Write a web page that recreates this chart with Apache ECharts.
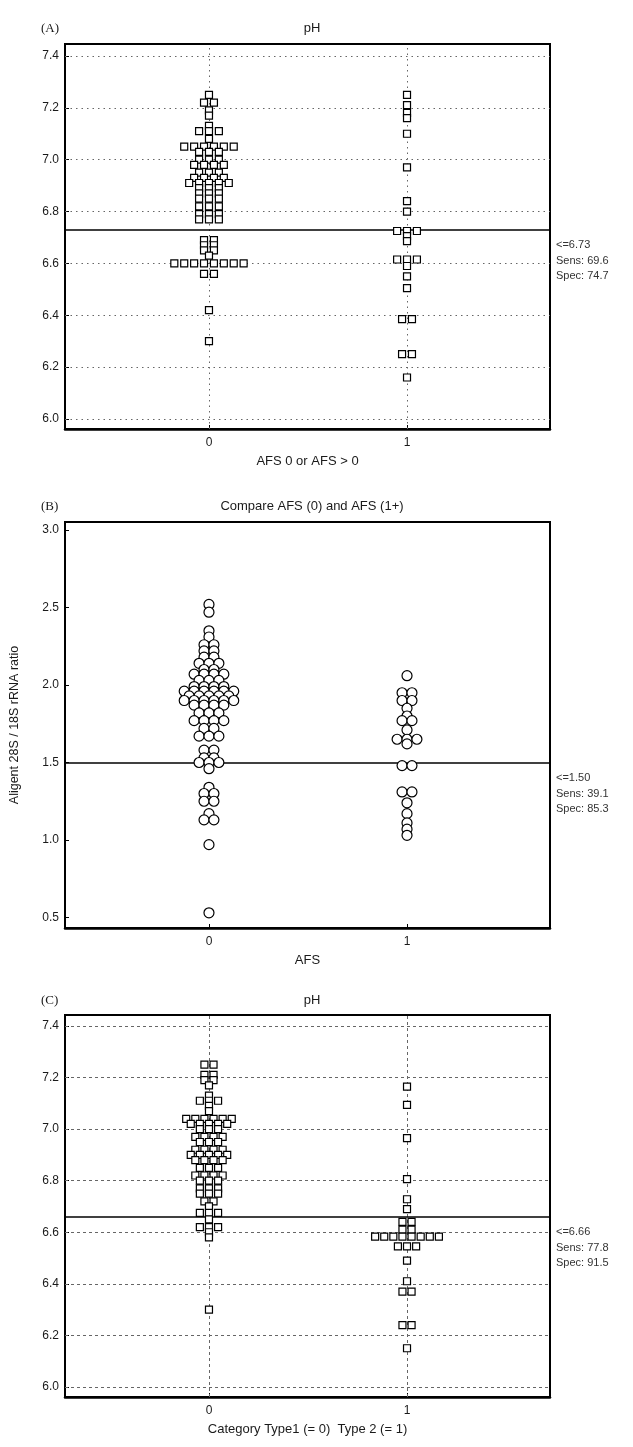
<!DOCTYPE html>
<html><head><meta charset="utf-8">
<script src="https://cdn.jsdelivr.net/npm/echarts@6/dist/echarts.min.js"></script>
<style>html,body{margin:0;padding:0;background:#fff}#c{width:633px;height:1447px}</style>
</head><body><div id="c"></div>
<script>
// ---------- DATA ----------
const phTicks = [6.0, 6.2, 6.4, 6.6, 6.8, 7.0, 7.2, 7.4];
const rnaTicks = [0.5, 1.0, 1.5, 2.0, 2.5, 3.0];
const groupTicks = [0, 1];

// Panel A: pH, AFS 0 (group 0) vs AFS > 0 (group 1)
const phA0 = [7.25, 7.22, 7.22, 7.19, 7.17, 7.13, 7.11, 7.11, 7.11, 7.08,
  7.05, 7.05, 7.05, 7.05, 7.05, 7.05, 7.03, 7.03, 7.03, 7.00, 7.00, 7.00,
  6.98, 6.98, 6.98, 6.98, 6.95, 6.95, 6.95, 6.93, 6.93, 6.93, 6.93,
  6.91, 6.91, 6.91, 6.91, 6.91, 6.89, 6.89, 6.89, 6.87, 6.87, 6.87,
  6.85, 6.85, 6.85, 6.82, 6.82, 6.82, 6.79, 6.79, 6.79, 6.77, 6.77, 6.77,
  6.69, 6.69, 6.67, 6.67, 6.65, 6.65, 6.63,
  6.60, 6.60, 6.60, 6.60, 6.60, 6.60, 6.60, 6.60, 6.56, 6.56, 6.42, 6.30];
const phA1 = [7.25, 7.21, 7.18, 7.16, 7.10, 6.97, 6.84, 6.80, 6.725, 6.725, 6.725,
  6.705, 6.686, 6.615, 6.615, 6.615, 6.59, 6.55, 6.505, 6.385, 6.385, 6.25, 6.25, 6.16];
const cutA = 6.73, cutAText = '<=6.73\nSens: 69.6\nSpec: 74.7';

// Panel B: RNA ratio, AFS 0 vs AFS 1+
const rnaB0 = [2.52, 2.47, 2.35, 2.31, 2.26, 2.26, 2.22, 2.22, 2.18, 2.18,
  2.14, 2.14, 2.14, 2.10, 2.10, 2.07, 2.07, 2.07, 2.07, 2.03, 2.03, 2.03,
  1.99, 1.99, 1.99, 1.99, 1.96, 1.96, 1.96, 1.96, 1.96, 1.96,
  1.93, 1.93, 1.93, 1.93, 1.93, 1.90, 1.90, 1.90, 1.90, 1.90, 1.90,
  1.87, 1.87, 1.87, 1.87, 1.82, 1.82, 1.82, 1.77, 1.77, 1.77, 1.77,
  1.72, 1.72, 1.67, 1.67, 1.67, 1.58, 1.58, 1.53, 1.53, 1.50, 1.50, 1.50,
  1.46, 1.34, 1.30, 1.30, 1.25, 1.25, 1.17, 1.13, 1.13, 0.97, 0.53];
const rnaB1 = [2.06, 1.95, 1.95, 1.90, 1.90, 1.85, 1.80, 1.77, 1.77, 1.71,
  1.65, 1.65, 1.65, 1.62, 1.48, 1.48, 1.31, 1.31, 1.24, 1.17, 1.11, 1.07, 1.03];
const cutB = 1.50, cutBText = '<=1.50\nSens: 39.1\nSpec: 85.3';

// Panel C: pH, Type 1 (0) vs Type 2 (1)
const phC0 = [7.25, 7.25, 7.21, 7.21, 7.19, 7.19, 7.17, 7.13, 7.11, 7.11, 7.11, 7.09, 7.07,
  7.04, 7.04, 7.04, 7.04, 7.04, 7.04, 7.02, 7.02, 7.02, 7.02, 7.02, 7.00, 7.00, 7.00,
  6.97, 6.97, 6.97, 6.97, 6.95, 6.95, 6.95, 6.92, 6.92, 6.92, 6.92,
  6.90, 6.90, 6.90, 6.90, 6.90, 6.88, 6.88, 6.88, 6.88, 6.85, 6.85, 6.85,
  6.82, 6.82, 6.82, 6.82, 6.80, 6.80, 6.80, 6.77, 6.77, 6.77, 6.75, 6.75, 6.75,
  6.72, 6.72, 6.70, 6.675, 6.675, 6.675, 6.65, 6.62, 6.62, 6.62, 6.60, 6.58, 6.30];
const phC1 = [7.165, 7.094, 6.965, 6.806, 6.728, 6.69, 6.64, 6.64, 6.61, 6.61,
  6.583, 6.583, 6.583, 6.583, 6.583, 6.583, 6.583, 6.583, 6.545, 6.545, 6.545,
  6.49, 6.41, 6.37, 6.37, 6.24, 6.24, 6.15];
const cutC = 6.66, cutCText = '<=6.66\nSens: 77.8\nSpec: 91.5';

// ---------- BUILD ----------
function swarm(values, group, step) {
  const count = {}, seen = {};
  values.forEach(v => { const k = v.toFixed(3); count[k] = (count[k] || 0) + 1; });
  return values.map(v => {
    const k = v.toFixed(3); const i = seen[k] || 0; seen[k] = i + 1;
    return [group + (i - (count[k] - 1) / 2) * step, v];
  });
}

const FONT = '"Liberation Sans", Arial, sans-serif';
const TXT = '#1a1a1a';

function gridLines(ticks, dashed) {
  const ls = { color: '#666', width: 1, type: dashed ? [3, 3] : [1.5, 4] };
  const arr = ticks.map(t => ({ yAxis: t, lineStyle: ls, label: { show: false } }));
  groupTicks.forEach(g => arr.push({ xAxis: g, lineStyle: ls, label: { show: false } }));
  return arr;
}
function cutLine(v, text) {
  // four leading empty lines push the 3-line block below the cut line
  return { yAxis: v, lineStyle: { color: '#000', width: 1.6, type: 'solid' },
    label: { show: true, position: 'end', formatter: '\n\n\n\n' + text, color: '#333', fontSize: 11,
      fontFamily: FONT, lineHeight: 15.5, align: 'left', distance: 6 } };
}

const panels = [
  { top: 44, height: 385, min: 5.9615, max: 7.446, ticks: phTicks, g0: phA0, g1: phA1, sym: 'rect', size: 7, step: 0.05,
    cut: cutA, cutText: cutAText, lines: gridLines(phTicks, false), xname: 'AFS 0 or AFS > 0', yname: '' },
  { top: 522, height: 406, min: 0.432, max: 3.052, ticks: rnaTicks, g0: rnaB0, g1: rnaB1, sym: 'circle', size: 10, step: 0.05,
    cut: cutB, cutText: cutBText, lines: [], xname: 'AFS', yname: 'Aligent 28S / 18S rRNA ratio' },
  { top: 1015, height: 382, min: 5.961, max: 7.4426, ticks: phTicks, g0: phC0, g1: phC1, sym: 'rect', size: 7, step: 0.046,
    cut: cutC, cutText: cutCText, lines: gridLines(phTicks, true), xname: 'Category Type1 (= 0)  Type 2 (= 1)', yname: '' }
];

const grids = [], xAxes = [], yAxes = [], series = [];
panels.forEach((p, i) => {
  grids.push({ left: 65, width: 485, top: p.top, height: p.height, show: true,
    borderColor: '#000', borderWidth: 2, backgroundColor: 'transparent' });
  xAxes.push({ type: 'value', gridIndex: i, min: -0.727, max: 1.722,
    axisLine: { show: true, onZero: false, lineStyle: { color: '#000', width: 2.5 } },
    axisTick: { show: true, inside: true, length: 4, customValues: groupTicks, lineStyle: { color: '#000' } },
    axisLabel: { customValues: groupTicks, formatter: v => String(Math.round(v)), color: TXT, fontSize: 12, fontFamily: FONT, margin: 8 },
    splitLine: { show: false },
    name: p.xname, nameLocation: 'middle', nameGap: 26,
    nameTextStyle: { color: TXT, fontSize: 13, fontFamily: FONT } });
  yAxes.push({ type: 'value', gridIndex: i, min: p.min, max: p.max,
    axisLine: { show: true, onZero: false, lineStyle: { color: '#000', width: 1.5 } },
    axisTick: { show: true, inside: true, length: 4, customValues: p.ticks, lineStyle: { color: '#000' } },
    axisLabel: { customValues: p.ticks, formatter: v => v.toFixed(1), color: TXT, fontSize: 12, fontFamily: FONT, margin: 6 },
    splitLine: { show: false },
    name: p.yname, nameLocation: 'middle', nameGap: 44,
    nameTextStyle: { color: TXT, fontSize: 12.5, fontFamily: FONT } });
  const itemStyle = { color: '#fff', borderColor: '#000', borderWidth: 1.2, opacity: 1 };
  series.push({ type: 'scatter', xAxisIndex: i, yAxisIndex: i, symbol: p.sym, symbolSize: p.size,
    data: swarm(p.g0, 0, p.step), itemStyle, z: 3, silent: true,
    markLine: { silent: true, symbol: ['none', 'none'], z: 1, animation: false,
      data: p.lines.concat([cutLine(p.cut, p.cutText)]) } });
  series.push({ type: 'scatter', xAxisIndex: i, yAxisIndex: i, symbol: p.sym, symbolSize: p.size,
    data: swarm(p.g1, 1, p.step), itemStyle, z: 3, silent: true });
});

const titleStyle = { color: TXT, fontSize: 13, fontWeight: 'normal', fontFamily: FONT };
const tagStyle = { color: TXT, fontSize: 13, fontWeight: 'normal', fontFamily: '"Liberation Serif", "Times New Roman", serif' };
const titles = [
  { text: '(A)', left: 36, top: 17, textStyle: tagStyle },
  { text: 'pH', left: 307, top: 17, textAlign: 'center', textStyle: titleStyle },
  { text: '(B)', left: 36, top: 495, textStyle: tagStyle },
  { text: 'Compare AFS (0) and AFS (1+)', left: 307, top: 495, textAlign: 'center', textStyle: titleStyle },
  { text: '(C)', left: 36, top: 989, textStyle: tagStyle },
  { text: 'pH', left: 307, top: 989, textAlign: 'center', textStyle: titleStyle }
];

const chart = echarts.init(document.getElementById('c'), null, { renderer: 'canvas' });
chart.setOption({ animation: false, backgroundColor: '#fff', title: titles,
  grid: grids, xAxis: xAxes, yAxis: yAxes, series });
</script></body></html>
